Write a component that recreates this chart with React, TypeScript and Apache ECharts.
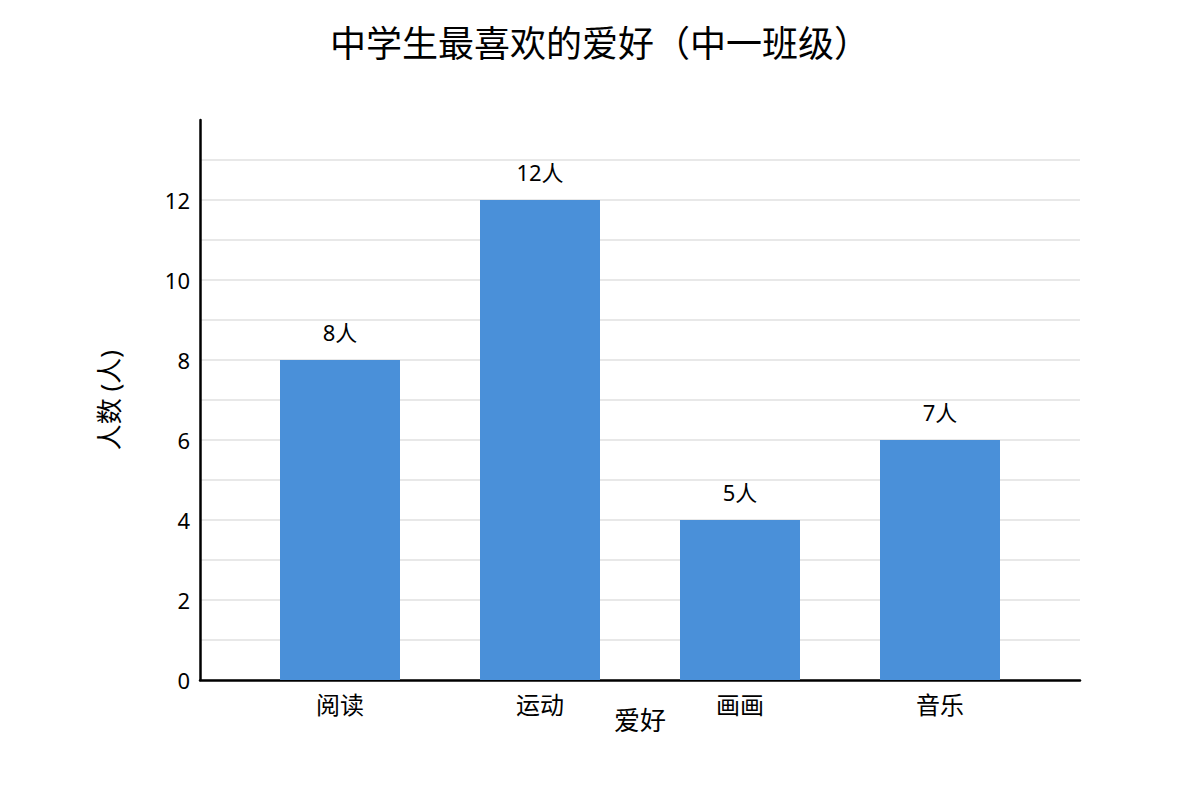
import React, { useEffect, useRef } from 'react';
import * as echarts from 'echarts';

const categories = ['阅读', '运动', '画画', '音乐'];
const barValues = [8, 12, 4, 6];
const labelValues = [8, 12, 5, 7];
const yTickLabels = [0, 2, 4, 6, 8, 10, 12];

const FONT = '"Noto Sans", "Noto Sans CJK SC", sans-serif';

const App: React.FC = () => {
  const chartRef = useRef<HTMLDivElement>(null);

  useEffect(() => {
    document.body.style.margin = '0';
    let chart: echarts.ECharts | undefined;
    if (chartRef.current) {
      chart = echarts.init(chartRef.current, undefined, { renderer: 'svg' });
      chart.setOption({
        animation: false,
        backgroundColor: '#ffffff',
        textStyle: { fontFamily: FONT },
        title: {
          text: '中学生最喜欢的爱好（中一班级）',
          left: 'center',
          top: 20,
          textStyle: { fontSize: 36, fontWeight: 'normal', color: '#000', fontFamily: FONT },
        },
        grid: { left: 200, right: 120, top: 120, bottom: 120 },
        xAxis: {
          type: 'value',
          min: -0.7,
          max: 3.7,
          name: '爱好',
          nameLocation: 'middle',
          nameGap: 27,
          nameMoveOverlap: false,
          nameTextStyle: { fontSize: 26, color: '#000', fontFamily: FONT },
          axisLine: { show: true, lineStyle: { color: '#000', width: 2.5 } },
          axisTick: { show: false },
          splitLine: { show: false },
          axisLabel: {
            customValues: [0, 1, 2, 3],
            formatter: (v: number) => categories[Math.round(v)] ?? '',
            fontSize: 24,
            color: '#000',
            margin: 12,
            fontFamily: FONT,
          },
        },
        yAxis: {
          type: 'value',
          min: 0,
          max: 14,
          interval: 1,
          name: '人数 (人)',
          nameLocation: 'middle',
          nameGap: 78,
          nameMoveOverlap: false,
          nameTextStyle: { fontSize: 26, color: '#000', fontFamily: FONT },
          axisLine: { show: true, onZero: false, lineStyle: { color: '#000', width: 2.5 } },
          axisTick: { show: false },
          axisLabel: {
            customValues: yTickLabels,
            fontSize: 22,
            color: '#000',
            margin: 10,
            fontFamily: FONT,
          },
          splitLine: {
            show: true,
            showMaxLine: false,
            lineStyle: { color: '#e0e0e0', width: 1.5 },
          },
        },
        series: [
          {
            type: 'bar',
            barWidth: 120,
            itemStyle: { color: '#4a90d9' },
            data: barValues.map((v, i) => [i, v]),
            label: {
              show: true,
              position: 'top',
              distance: 17,
              fontSize: 22,
              color: '#000',
              fontFamily: FONT,
              formatter: (p: any) => `${labelValues[p.dataIndex]}人`,
            },
          },
        ],
      });
    }
    return () => {
      chart?.dispose();
    };
  }, []);

  return <div ref={chartRef} style={{ width: '1200px', height: '800px' }} />;
};

export default App;
